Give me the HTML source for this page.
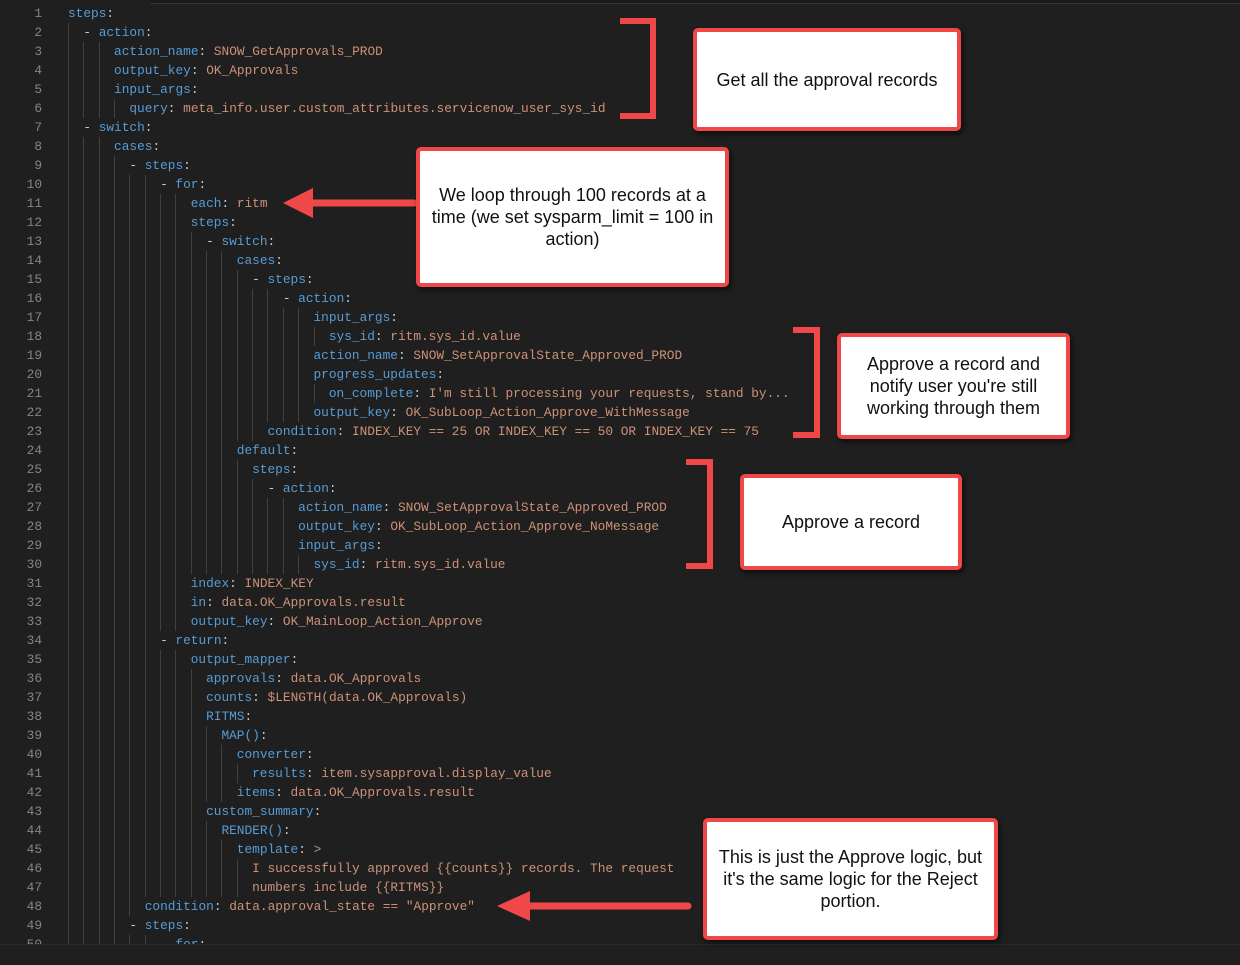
<!DOCTYPE html>
<html><head><meta charset="utf-8"><style>
html,body{margin:0;padding:0}
body{width:1240px;height:965px;background:#1f1f1f;position:relative;overflow:hidden;font-family:"Liberation Mono",monospace}
#code{position:absolute;left:0;top:0;width:1240px;height:944px;overflow:hidden;border-bottom:1px solid #2b2b2b}
.l{position:absolute;left:0;height:19px;line-height:19px;font-size:12.8px;white-space:pre;color:#cccccc}
.n{position:absolute;left:0;width:42px;text-align:right;color:#858585}
.c{position:absolute;left:68px;top:0;height:19px}
i{display:inline-block;width:2ch;height:19px;vertical-align:top;box-shadow:inset 1px 0 0 #404040}
.k{color:#569cd6}.v{color:#ce9178}.p{color:#cccccc}.g{color:#c586c0}
.box{position:absolute;background:#fff;border:4px solid #f04848;border-radius:5px;box-sizing:border-box;display:flex;align-items:center;justify-content:center;text-align:center;font-family:"Liberation Sans",sans-serif;font-size:18px;line-height:22px;color:#111;box-shadow:2px 3px 6px rgba(0,0,0,.6)}
</style></head><body>
<div style="position:absolute;left:150px;top:0;width:1090px;height:3px;border-bottom:1px solid #333;background:#1b1b1b"></div>
<div id="code">
<div class="l" style="top:3.5px"><span class="n">1</span><span class="c"><span class="k">steps</span>:</span></div>
<div class="l" style="top:22.5px"><span class="n">2</span><span class="c"><i></i>- <span class="k">action</span>:</span></div>
<div class="l" style="top:41.5px"><span class="n">3</span><span class="c"><i></i><i></i><i></i><span class="k">action_name</span>: <span class="v">SNOW_GetApprovals_PROD</span></span></div>
<div class="l" style="top:60.5px"><span class="n">4</span><span class="c"><i></i><i></i><i></i><span class="k">output_key</span>: <span class="v">OK_Approvals</span></span></div>
<div class="l" style="top:79.5px"><span class="n">5</span><span class="c"><i></i><i></i><i></i><span class="k">input_args</span>:</span></div>
<div class="l" style="top:98.5px"><span class="n">6</span><span class="c"><i></i><i></i><i></i><i></i><span class="k">query</span>: <span class="v">meta_info.user.custom_attributes.servicenow_user_sys_id</span></span></div>
<div class="l" style="top:117.5px"><span class="n">7</span><span class="c"><i></i>- <span class="k">switch</span>:</span></div>
<div class="l" style="top:136.5px"><span class="n">8</span><span class="c"><i></i><i></i><i></i><span class="k">cases</span>:</span></div>
<div class="l" style="top:155.5px"><span class="n">9</span><span class="c"><i></i><i></i><i></i><i></i>- <span class="k">steps</span>:</span></div>
<div class="l" style="top:174.5px"><span class="n">10</span><span class="c"><i></i><i></i><i></i><i></i><i></i><i></i>- <span class="k">for</span>:</span></div>
<div class="l" style="top:193.5px"><span class="n">11</span><span class="c"><i></i><i></i><i></i><i></i><i></i><i></i><i></i><i></i><span class="k">each</span>: <span class="v">ritm</span></span></div>
<div class="l" style="top:212.5px"><span class="n">12</span><span class="c"><i></i><i></i><i></i><i></i><i></i><i></i><i></i><i></i><span class="k">steps</span>:</span></div>
<div class="l" style="top:231.5px"><span class="n">13</span><span class="c"><i></i><i></i><i></i><i></i><i></i><i></i><i></i><i></i><i></i>- <span class="k">switch</span>:</span></div>
<div class="l" style="top:250.5px"><span class="n">14</span><span class="c"><i></i><i></i><i></i><i></i><i></i><i></i><i></i><i></i><i></i><i></i><i></i><span class="k">cases</span>:</span></div>
<div class="l" style="top:269.5px"><span class="n">15</span><span class="c"><i></i><i></i><i></i><i></i><i></i><i></i><i></i><i></i><i></i><i></i><i></i><i></i>- <span class="k">steps</span>:</span></div>
<div class="l" style="top:288.5px"><span class="n">16</span><span class="c"><i></i><i></i><i></i><i></i><i></i><i></i><i></i><i></i><i></i><i></i><i></i><i></i><i></i><i></i>- <span class="k">action</span>:</span></div>
<div class="l" style="top:307.5px"><span class="n">17</span><span class="c"><i></i><i></i><i></i><i></i><i></i><i></i><i></i><i></i><i></i><i></i><i></i><i></i><i></i><i></i><i></i><i></i><span class="k">input_args</span>:</span></div>
<div class="l" style="top:326.5px"><span class="n">18</span><span class="c"><i></i><i></i><i></i><i></i><i></i><i></i><i></i><i></i><i></i><i></i><i></i><i></i><i></i><i></i><i></i><i></i><i></i><span class="k">sys_id</span>: <span class="v">ritm.sys_id.value</span></span></div>
<div class="l" style="top:345.5px"><span class="n">19</span><span class="c"><i></i><i></i><i></i><i></i><i></i><i></i><i></i><i></i><i></i><i></i><i></i><i></i><i></i><i></i><i></i><i></i><span class="k">action_name</span>: <span class="v">SNOW_SetApprovalState_Approved_PROD</span></span></div>
<div class="l" style="top:364.5px"><span class="n">20</span><span class="c"><i></i><i></i><i></i><i></i><i></i><i></i><i></i><i></i><i></i><i></i><i></i><i></i><i></i><i></i><i></i><i></i><span class="k">progress_updates</span>:</span></div>
<div class="l" style="top:383.5px"><span class="n">21</span><span class="c"><i></i><i></i><i></i><i></i><i></i><i></i><i></i><i></i><i></i><i></i><i></i><i></i><i></i><i></i><i></i><i></i><i></i><span class="k">on_complete</span>: <span class="v">I'm still processing your requests, stand by...</span></span></div>
<div class="l" style="top:402.5px"><span class="n">22</span><span class="c"><i></i><i></i><i></i><i></i><i></i><i></i><i></i><i></i><i></i><i></i><i></i><i></i><i></i><i></i><i></i><i></i><span class="k">output_key</span>: <span class="v">OK_SubLoop_Action_Approve_WithMessage</span></span></div>
<div class="l" style="top:421.5px"><span class="n">23</span><span class="c"><i></i><i></i><i></i><i></i><i></i><i></i><i></i><i></i><i></i><i></i><i></i><i></i><i></i><span class="k">condition</span>: <span class="v">INDEX_KEY == 25 OR INDEX_KEY == 50 OR INDEX_KEY == 75</span></span></div>
<div class="l" style="top:440.5px"><span class="n">24</span><span class="c"><i></i><i></i><i></i><i></i><i></i><i></i><i></i><i></i><i></i><i></i><i></i><span class="k">default</span>:</span></div>
<div class="l" style="top:459.5px"><span class="n">25</span><span class="c"><i></i><i></i><i></i><i></i><i></i><i></i><i></i><i></i><i></i><i></i><i></i><i></i><span class="k">steps</span>:</span></div>
<div class="l" style="top:478.5px"><span class="n">26</span><span class="c"><i></i><i></i><i></i><i></i><i></i><i></i><i></i><i></i><i></i><i></i><i></i><i></i><i></i>- <span class="k">action</span>:</span></div>
<div class="l" style="top:497.5px"><span class="n">27</span><span class="c"><i></i><i></i><i></i><i></i><i></i><i></i><i></i><i></i><i></i><i></i><i></i><i></i><i></i><i></i><i></i><span class="k">action_name</span>: <span class="v">SNOW_SetApprovalState_Approved_PROD</span></span></div>
<div class="l" style="top:516.5px"><span class="n">28</span><span class="c"><i></i><i></i><i></i><i></i><i></i><i></i><i></i><i></i><i></i><i></i><i></i><i></i><i></i><i></i><i></i><span class="k">output_key</span>: <span class="v">OK_SubLoop_Action_Approve_NoMessage</span></span></div>
<div class="l" style="top:535.5px"><span class="n">29</span><span class="c"><i></i><i></i><i></i><i></i><i></i><i></i><i></i><i></i><i></i><i></i><i></i><i></i><i></i><i></i><i></i><span class="k">input_args</span>:</span></div>
<div class="l" style="top:554.5px"><span class="n">30</span><span class="c"><i></i><i></i><i></i><i></i><i></i><i></i><i></i><i></i><i></i><i></i><i></i><i></i><i></i><i></i><i></i><i></i><span class="k">sys_id</span>: <span class="v">ritm.sys_id.value</span></span></div>
<div class="l" style="top:573.5px"><span class="n">31</span><span class="c"><i></i><i></i><i></i><i></i><i></i><i></i><i></i><i></i><span class="k">index</span>: <span class="v">INDEX_KEY</span></span></div>
<div class="l" style="top:592.5px"><span class="n">32</span><span class="c"><i></i><i></i><i></i><i></i><i></i><i></i><i></i><i></i><span class="k">in</span>: <span class="v">data.OK_Approvals.result</span></span></div>
<div class="l" style="top:611.5px"><span class="n">33</span><span class="c"><i></i><i></i><i></i><i></i><i></i><i></i><i></i><i></i><span class="k">output_key</span>: <span class="v">OK_MainLoop_Action_Approve</span></span></div>
<div class="l" style="top:630.5px"><span class="n">34</span><span class="c"><i></i><i></i><i></i><i></i><i></i><i></i>- <span class="k">return</span>:</span></div>
<div class="l" style="top:649.5px"><span class="n">35</span><span class="c"><i></i><i></i><i></i><i></i><i></i><i></i><i></i><i></i><span class="k">output_mapper</span>:</span></div>
<div class="l" style="top:668.5px"><span class="n">36</span><span class="c"><i></i><i></i><i></i><i></i><i></i><i></i><i></i><i></i><i></i><span class="k">approvals</span>: <span class="v">data.OK_Approvals</span></span></div>
<div class="l" style="top:687.5px"><span class="n">37</span><span class="c"><i></i><i></i><i></i><i></i><i></i><i></i><i></i><i></i><i></i><span class="k">counts</span>: <span class="v">$LENGTH(data.OK_Approvals)</span></span></div>
<div class="l" style="top:706.5px"><span class="n">38</span><span class="c"><i></i><i></i><i></i><i></i><i></i><i></i><i></i><i></i><i></i><span class="k">RITMS</span>:</span></div>
<div class="l" style="top:725.5px"><span class="n">39</span><span class="c"><i></i><i></i><i></i><i></i><i></i><i></i><i></i><i></i><i></i><i></i><span class="k">MAP()</span>:</span></div>
<div class="l" style="top:744.5px"><span class="n">40</span><span class="c"><i></i><i></i><i></i><i></i><i></i><i></i><i></i><i></i><i></i><i></i><i></i><span class="k">converter</span>:</span></div>
<div class="l" style="top:763.5px"><span class="n">41</span><span class="c"><i></i><i></i><i></i><i></i><i></i><i></i><i></i><i></i><i></i><i></i><i></i><i></i><span class="k">results</span>: <span class="v">item.sysapproval.display_value</span></span></div>
<div class="l" style="top:782.5px"><span class="n">42</span><span class="c"><i></i><i></i><i></i><i></i><i></i><i></i><i></i><i></i><i></i><i></i><i></i><span class="k">items</span>: <span class="v">data.OK_Approvals.result</span></span></div>
<div class="l" style="top:801.5px"><span class="n">43</span><span class="c"><i></i><i></i><i></i><i></i><i></i><i></i><i></i><i></i><i></i><span class="k">custom_summary</span>:</span></div>
<div class="l" style="top:820.5px"><span class="n">44</span><span class="c"><i></i><i></i><i></i><i></i><i></i><i></i><i></i><i></i><i></i><i></i><span class="k">RENDER()</span>:</span></div>
<div class="l" style="top:839.5px"><span class="n">45</span><span class="c"><i></i><i></i><i></i><i></i><i></i><i></i><i></i><i></i><i></i><i></i><i></i><span class="k">template</span>: <span class="g">&gt;</span></span></div>
<div class="l" style="top:858.5px"><span class="n">46</span><span class="c"><i></i><i></i><i></i><i></i><i></i><i></i><i></i><i></i><i></i><i></i><i></i><i></i><span class="v">I successfully approved {{counts}} records. The request</span></span></div>
<div class="l" style="top:877.5px"><span class="n">47</span><span class="c"><i></i><i></i><i></i><i></i><i></i><i></i><i></i><i></i><i></i><i></i><i></i><i></i><span class="v">numbers include {{RITMS}}</span></span></div>
<div class="l" style="top:896.5px"><span class="n">48</span><span class="c"><i></i><i></i><i></i><i></i><i></i><span class="k">condition</span>: <span class="v">data.approval_state == "Approve"</span></span></div>
<div class="l" style="top:915.5px"><span class="n">49</span><span class="c"><i></i><i></i><i></i><i></i>- <span class="k">steps</span>:</span></div>
<div class="l" style="top:934.5px"><span class="n">50</span><span class="c"><i></i><i></i><i></i><i></i><i></i><i></i>- <span class="k">for</span>:</span></div>
</div>

<svg width="1240" height="965" style="position:absolute;left:0;top:0" fill="none">
<g stroke="#f04848" stroke-width="6" stroke-linejoin="miter">
<path d="M620,21 H653 V116 H620"/>
<path d="M793,330 H817 V435 H793"/>
<path d="M686,462 H710 V566 H686"/>
</g>
<g stroke="#f04848" stroke-width="7" stroke-linecap="round">
<line x1="305" y1="203" x2="414" y2="203"/>
<line x1="522" y1="906" x2="688" y2="906"/>
</g>
<g fill="#f04848">
<polygon points="283,203 313,188 313,218"/>
<polygon points="497,906 530,891 530,921"/>
</g>
</svg>

<div class="box" style="left:693px;top:28px;width:268px;height:103px">Get all the approval records</div>
<div class="box" style="left:416px;top:147px;width:313px;height:140px">We loop through 100 records at a time (we set sysparm_limit = 100 in action)</div>
<div class="box" style="left:837px;top:333px;width:233px;height:106px;padding:0 16px">Approve a record and notify user you're still working through them</div>
<div class="box" style="left:740px;top:474px;width:222px;height:96px">Approve a record</div>
<div class="box" style="left:703px;top:818px;width:295px;height:122px">This is just the Approve logic, but it's the same logic for the Reject portion.</div>
</body></html>
